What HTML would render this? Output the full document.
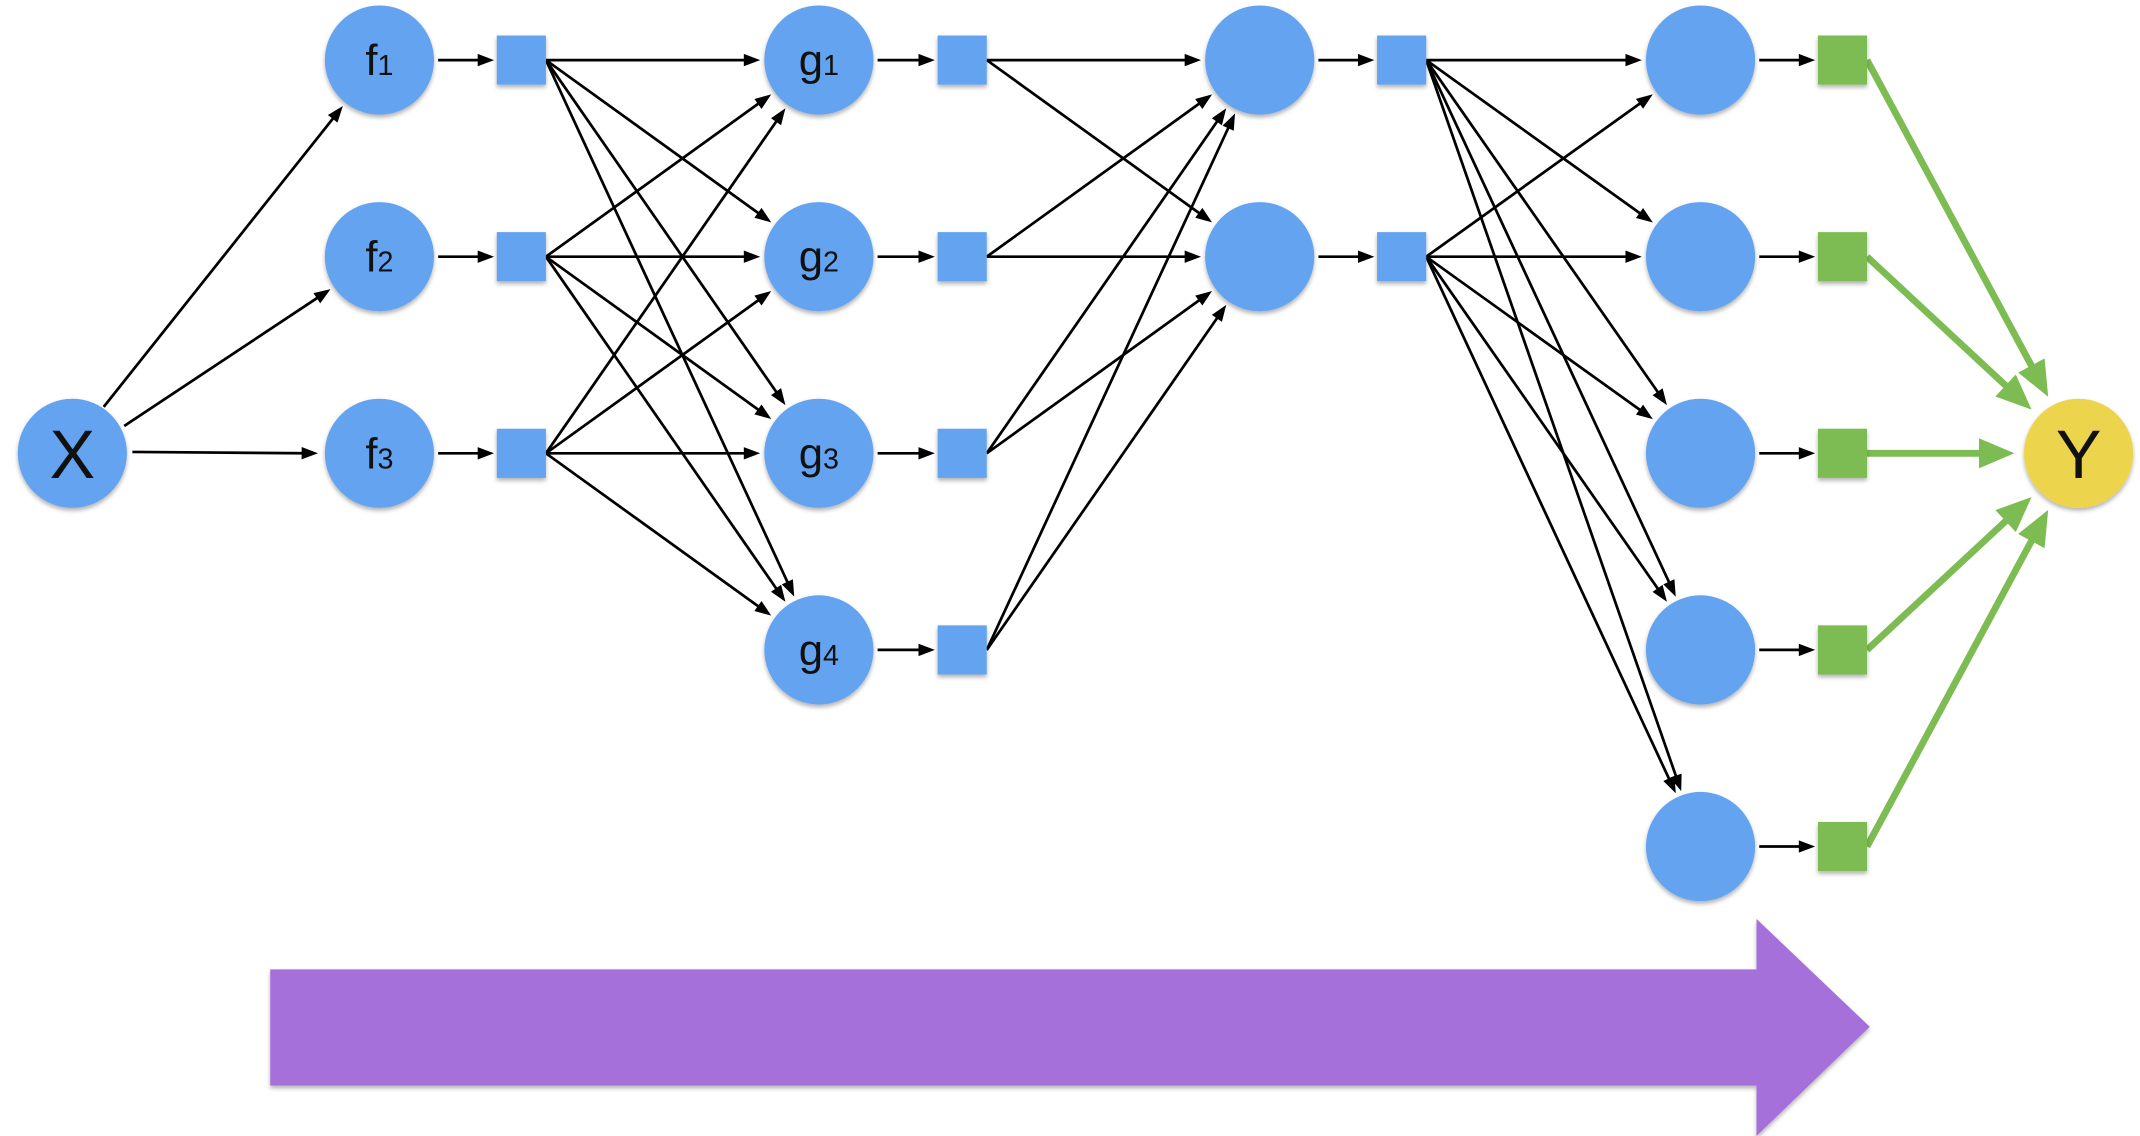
<!DOCTYPE html>
<html><head><meta charset="utf-8"><style>
html,body{margin:0;padding:0;background:#fff;}
svg{display:block;}
text{font-family:"Liberation Sans",sans-serif;fill:#111;}
</style></head><body>
<svg id="s" width="2140" height="1136" viewBox="0 0 1568 832" preserveAspectRatio="none" xmlns="http://www.w3.org/2000/svg">
<defs>
<filter id="sh" x="-20%" y="-20%" width="140%" height="150%"><feDropShadow dx="0" dy="2" stdDeviation="1.5" flood-color="#000" flood-opacity="0.3"/></filter>
</defs>
<polygon points="198,710 1287,710 1287,673 1370,752 1287,832 1287,795 198,795" fill="#A56FDA" filter="url(#sh)"/>
<g id="edges"></g>
<g id="nodes"></g>
</svg>
<script>
var NS="http://www.w3.org/2000/svg";
var E=document.getElementById('edges'),N=document.getElementById('nodes');
function el(p,t,a){var e=document.createElementNS(NS,t);for(var k in a)e.setAttribute(k,a[k]);p.appendChild(e);return e;}
var R=40,S=36;
function arrow(x1,y1,x2,y2,col,w,hl,hw){
 var dx=x2-x1,dy=y2-y1,L=Math.hypot(dx,dy),ux=dx/L,uy=dy/L;
 var bx=x2-ux*hl,by=y2-uy*hl;
 el(E,'line',{x1:x1,y1:y1,x2:bx+ux*1,y2:by+uy*1,stroke:col,'stroke-width':w});
 el(E,'polygon',{points:x2+','+y2+' '+(bx-uy*hw/2)+','+(by+ux*hw/2)+' '+(bx+uy*hw/2)+','+(by-ux*hw/2),fill:col});
}
function toCircle(x1,y1,cx,cy,r){var dx=cx-x1,dy=cy-y1,L=Math.hypot(dx,dy);return [cx-dx/L*(r+3),cy-dy/L*(r+3)];}
var blue="#64A3EF",green="#7DBC52";
var X=[53,332];
var fs=[44,188,332],gs=[44,188,332,476],cs=[44,188],ds=[44,188,332,476,620];
// X -> f
[[76,298],[91,312],[97,331]].forEach(function(s,i){var t=toCircle(s[0],s[1],278,fs[i],R);if(i==2)t=[233,332];arrow(s[0],s[1],t[0],t[1],'#000',2,12,9);});
function col(cx,ys,sqx,sqcol,labels,sub){
 ys.forEach(function(y,i){
  el(N,'circle',{cx:cx,cy:y,r:R,fill:blue,filter:'url(#sh)'});
  arrow(cx+R+3,y,sqx-S/2-2,y,'#000',2,12,9);
  el(N,'rect',{x:sqx-S/2,y:y-S/2,width:S,height:S,fill:sqcol,filter:'url(#sh)'});
  if(labels){var t=el(N,'text',{x:cx,y:y+11,'text-anchor':'middle','font-size':32});t.textContent=labels;
   var ts=el(t,'tspan',{'font-size':21,dy:0});ts.textContent=(i+1);}
 });
}
function fan(sqx,ys,tx,ts){
 ys.forEach(function(y){ts.forEach(function(ty){var t=toCircle(sqx+S/2,y,tx,ty,R);arrow(sqx+S/2,y,t[0],t[1],'#000',2,12,9);});});
}
fan(382,fs,600,gs);fan(705,gs,923,cs);fan(1027,cs,1246,ds);
col(278,fs,382,blue,'f');col(600,gs,705,blue,'g');col(923,cs,1027,blue,null);col(1246,ds,1350,green,null);
// green to Y
var Y=[1523,332];
ds.forEach(function(y,i){var t=toCircle(1350+S/2,y,Y[0],Y[1],R+4);arrow(1350+S/2,y,t[0],t[1],green,5,26,22);});
el(N,'circle',{cx:53,cy:332,r:R,fill:blue,filter:'url(#sh)'});
var tx=el(N,'text',{x:53,y:350,'text-anchor':'middle','font-size':50});tx.textContent='X';
el(N,'circle',{cx:1523,cy:332,r:R,fill:'#EDD44E',filter:'url(#sh)'});
var ty=el(N,'text',{x:1523,y:350,'text-anchor':'middle','font-size':50});ty.textContent='Y';
</script>
</body></html>
